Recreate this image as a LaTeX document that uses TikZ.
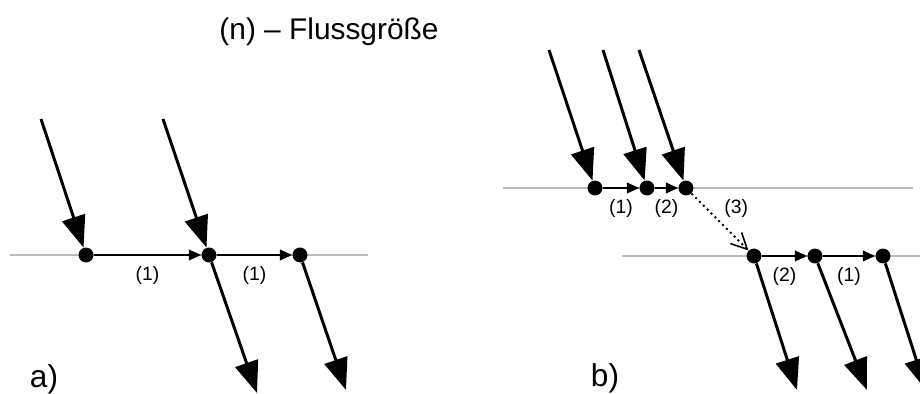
\documentclass[tikz,border=0pt]{standalone}
\usepackage{fontspec}
\setmainfont{Liberation Sans}
\usetikzlibrary{arrows.meta,positioning}

\begin{document}
\begin{tikzpicture}[x=0.02cm,y=-0.02cm,
    dot/.style={circle,fill,inner sep=0pt,minimum size=8.5pt},
    flow/.style={line width=1.7pt,-{Triangle[length=18pt,width=13.5pt]}},
    link/.style={line width=1.1pt,-{Triangle[length=7pt,width=6pt]}},
    jump/.style={line width=1.1pt,dotted,-{Straight Barb[length=9pt,width=9pt,line width=0.9pt,sharp]}},
    level/.style={line width=1.1pt,black!27},
    lbl/.style={font=\fontsize{11}{13}\selectfont,inner sep=2pt},
    tag/.style={font=\fontsize{18}{21}\selectfont}
  ]
  \useasboundingbox (0,0) rectangle (920,394);
  \node[font=\fontsize{17}{20}\selectfont] (title) at (329,32) {(n) -- Flussgröße};

  % a)
  \draw[level] (10,255) -- (368,255);
  \node[dot] (a1) at (86,255) {};
  \node[dot] (a2) at (209,255) {};
  \node[dot] (a3) at (300,255) {};
  \coordinate (ain1) at (41,119);
  \coordinate (ain2) at (163,119);
  \coordinate (aout2) at (257,393);
  \coordinate (aout3) at (346,390);
  \draw[flow] (ain1) -- (a1);
  \draw[flow] (ain2) -- (a2);
  \draw[flow] (a2) -- (aout2);
  \draw[flow] (a3) -- (aout3);
  \draw[link] (a1) -- node[lbl,below=4pt] {(1)} (a2);
  \draw[link] (a2) -- node[lbl,below=4pt] {(1)} (a3);
  \node[tag] (taga) at (44,379) {a)};

  % b)
  \draw[level] (503,188) -- (913,188);
  \draw[level] (622,256) -- (920,256);
  \node[dot] (b1) at (595,188) {};
  \node[dot] (b2) at (647,188) {};
  \node[dot] (b3) at (686,188) {};
  \node[dot] (c1) at (754,256) {};
  \node[dot] (c2) at (815,256) {};
  \node[dot] (c3) at (883,256) {};
  \coordinate (bin1) at (549,50);
  \coordinate (bin2) at (603,50);
  \coordinate (bin3) at (639,50);
  \coordinate (cout1) at (797,390);
  \coordinate (cout2) at (867,390);
  \coordinate (cout3) at (926,390);
  \draw[flow] (bin1) -- (b1);
  \draw[flow] (bin2) -- (b2);
  \draw[flow] (bin3) -- (b3);
  \draw[flow] (c1) -- (cout1);
  \draw[flow] (c2) -- (cout2);
  \draw[flow] (c3) -- (cout3);
  \draw[link] (b1) -- node[lbl,below=4pt] {(1)} (b2);
  \draw[link] (b2) -- node[lbl,below=4pt] {(2)} (b3);
  \draw[jump] (b3) -- node[lbl,above right=0pt] {(3)} (c1);
  \draw[link] (c1) -- node[lbl,below=4pt] {(2)} (c2);
  \draw[link] (c2) -- node[lbl,below=4pt] {(1)} (c3);
  \node[tag] (tagb) at (605,378) {b)};
\end{tikzpicture}
\end{document}
